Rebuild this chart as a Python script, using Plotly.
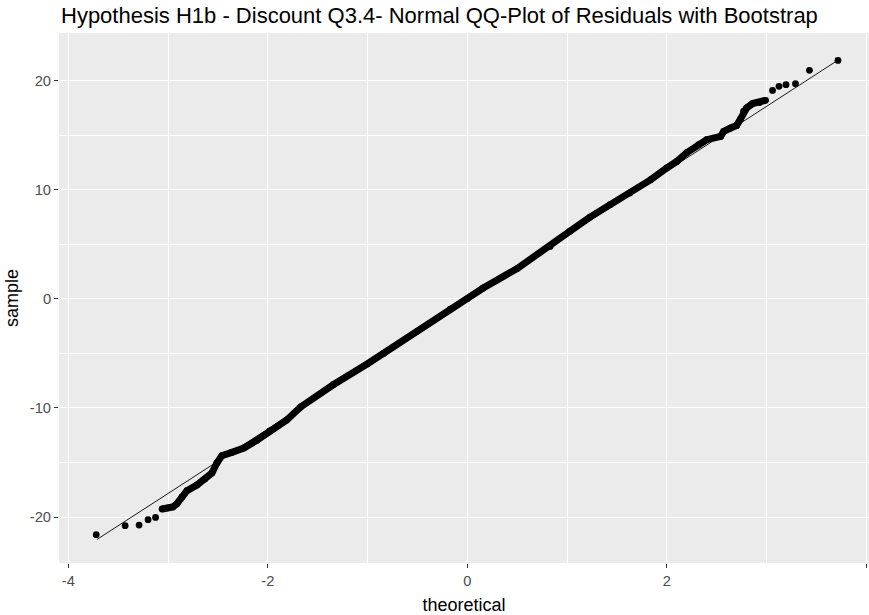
import plotly.graph_objects as go

# Normal QQ-plot of bootstrap residuals (Hypothesis H1b, Discount Q3.4)

# isolated points in the lower tail
low_tail_theoretical = [-3.72, -3.43, -3.29, -3.20, -3.125]
low_tail_sample = [-21.61, -20.79, -20.73, -20.24, -20.03]

# dense run of points through the body of the distribution
body_theoretical = [-3.06, -3.00, -2.95, -2.91, -2.86, -2.81, -2.71, -2.63, -2.56, -2.51,
                    -2.46, -2.36, -2.24, -2.11, -1.98, -1.81, -1.67, -1.34, -1.00, -0.84,
                    -0.50, -0.17, 0.00, 0.16, 0.50, 0.83, 1.03, 1.23, 1.43, 1.63,
                    1.84, 2.00, 2.10, 2.20, 2.32, 2.40, 2.54, 2.57, 2.64, 2.70,
                    2.74, 2.77, 2.80, 2.86, 2.93, 2.99]
body_sample = [-19.26, -19.15, -19.07, -18.77, -18.16, -17.58, -17.06, -16.51, -15.96, -15.04,
               -14.37, -14.07, -13.67, -12.97, -12.10, -11.10, -9.90, -7.85, -5.95, -5.00,
               -2.95, -0.95, 0.00, 1.00, 2.78, 4.81, 6.20, 7.50, 8.63, 9.71,
               10.93, 12.00, 12.60, 13.40, 14.13, 14.59, 14.90, 15.35, 15.66, 15.90,
               16.50, 17.20, 17.50, 17.90, 18.00, 18.20]

# isolated points in the upper tail
high_tail_theoretical = [3.06, 3.125, 3.195, 3.29, 3.43, 3.716]
high_tail_sample = [19.11, 19.48, 19.63, 19.72, 20.95, 21.86]

# reference line of the QQ-plot
qq_line_theoretical = [-3.712, 3.716]
qq_line_sample = [-22.05, 21.88]

x_ticks = [-4, -2, 0, 2, 4]
y_ticks = [-20, -10, 0, 10, 20]

FONT = "Liberation Sans, Arial, sans-serif"
POINT = 6.8

fig = go.Figure()

fig.add_trace(go.Scatter(
    x=qq_line_theoretical, y=qq_line_sample, mode="lines",
    line=dict(color="black", width=0.9), hoverinfo="skip"))

fig.add_trace(go.Scatter(
    x=body_theoretical, y=body_sample, mode="lines+markers",
    line=dict(color="black", width=7),
    marker=dict(color="black", size=POINT)))

fig.add_trace(go.Scatter(
    x=low_tail_theoretical + high_tail_theoretical,
    y=low_tail_sample + high_tail_sample, mode="markers",
    marker=dict(color="black", size=POINT)))

axis_common = dict(
    showline=False, zeroline=False,
    showgrid=True, gridcolor="white", gridwidth=1.3,
    ticks="outside", ticklen=4, tickwidth=1.1, tickcolor="#333333",
    tickfont=dict(family=FONT, size=14.7, color="#4D4D4D"),
    title_font=dict(family=FONT, size=18, color="black"),
)

fig.update_xaxes(
    **axis_common, range=[-4.093, 4.027], tickvals=x_ticks,
    ticktext=[str(v) for v in x_ticks],
    minor=dict(dtick=1, tick0=1, showgrid=True, gridcolor="white", gridwidth=0.65, ticks=""),
    title_text="theoretical", title_standoff=10)

fig.update_yaxes(
    **axis_common, range=[-24.21, 24.37], tickvals=y_ticks,
    ticktext=[str(v) for v in y_ticks],
    minor=dict(dtick=10, tick0=5, showgrid=True, gridcolor="white", gridwidth=0.65, ticks=""),
    title_text="sample", title_standoff=6)

fig.update_layout(
    width=869, height=615,
    margin=dict(l=59, r=0, t=33, b=52),
    paper_bgcolor="white", plot_bgcolor="#EBEBEB",
    showlegend=False,
    title=dict(
        text="Hypothesis H1b - Discount Q3.4- Normal QQ-Plot of Residuals with Bootstrap",
        font=dict(family=FONT, size=22, color="black"),
        x=61 / 869, xanchor="left", xref="container",
        y=1 - 15 / 615, yanchor="middle", yref="container"),
)

fig.write_html("out.html")
